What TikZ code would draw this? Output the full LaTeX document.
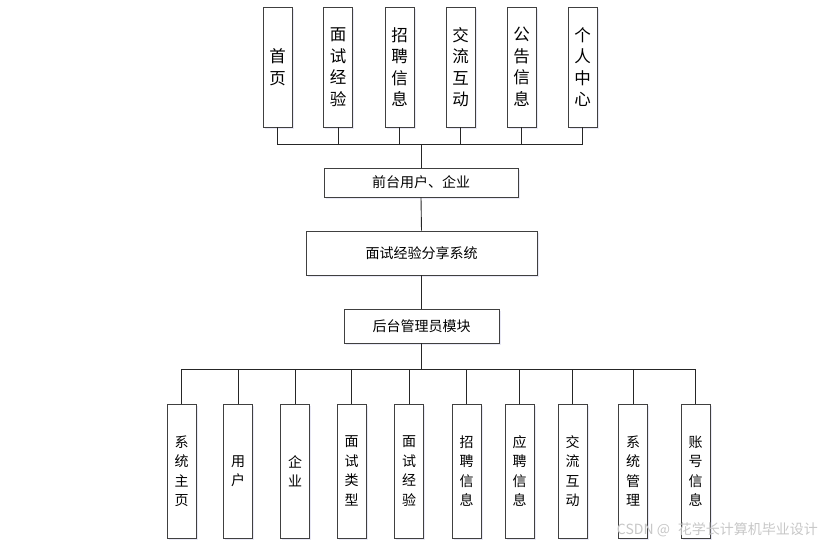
\documentclass[tikz,border=0pt]{standalone}
\usepackage{fontspec}
\setmainfont{Noto Sans CJK SC}
\newfontfamily\cjk{Noto Sans CJK SC}
\usetikzlibrary{shadows}
\begin{document}
\begin{tikzpicture}[x=1pt,y=-1pt,
  box/.style={draw=black!75,line width=0.9pt,fill=white,inner sep=0pt,
    drop shadow={opacity=0.12,shadow xshift=1.5pt,shadow yshift=-1.5pt,fill=blue!40!gray}},
  topbox/.style={box,minimum width=29pt,minimum height=120pt,font=\fontsize{16.5}{21.5}\selectfont,align=center},
  botbox/.style={box,minimum width=29pt,minimum height=134pt,font=\fontsize{14}{19.5}\selectfont,align=center},
  midbox/.style={box,font=\fontsize{14}{16}\selectfont},
  conn/.style={draw=black!85,line width=0.9pt}]
\useasboundingbox (0,0) rectangle (831,546);
% top row
\node[topbox] (t1) at (277.5,67) {首\\页};
\node[topbox] (t2) at (338,67) {面\\试\\经\\验};
\node[topbox] (t3) at (399.5,67) {招\\聘\\信\\息};
\node[topbox] (t4) at (460.5,67) {交\\流\\互\\动};
\node[topbox] (t5) at (521.5,67) {公\\告\\信\\息};
\node[topbox] (t6) at (582.5,67) {个\\人\\中\\心};
% middle
\node[midbox,minimum width=194pt,minimum height=29pt] (front) at (421,182.5) {前台用户、企业};
\node[midbox,minimum width=231pt,minimum height=44pt] (sys) at (421.5,253) {面试经验分享系统};
\node[midbox,minimum width=155pt,minimum height=34pt] (back) at (421.5,326) {后台管理员模块};
% bottom row
\node[botbox] (b1) at (181.5,471) {系\\统\\主\\页};
\node[botbox] (b2) at (238,471) {用\\户};
\node[botbox] (b3) at (295,471) {企\\业};
\node[botbox] (b4) at (351.5,471) {面\\试\\类\\型};
\node[botbox] (b5) at (409,471) {面\\试\\经\\验};
\node[botbox] (b6) at (466.5,471) {招\\聘\\信\\息};
\node[botbox] (b7) at (519.5,471) {应\\聘\\信\\息};
\node[botbox] (b8) at (572.5,471) {交\\流\\互\\动};
\node[botbox] (b9) at (633,471) {系\\统\\管\\理};
\node[botbox] (b10) at (695.5,471) {账\\号\\信\\息};
% connectors top
\coordinate (tbus) at (421,144);
\foreach \n in {t1,t2,t3,t4,t5,t6}{
  \draw[conn] (\n.south) |- (tbus);
}
\draw[conn] (t1.south |- tbus) -- (t6.south |- tbus);
\draw[conn] (tbus) -- (front.north);
\draw[conn] (front.south) -- (sys.north);
\draw[conn] (sys.south) -- (back.north);
% connectors bottom
\coordinate (bbus) at (421.5,369);
\draw[conn] (back.south) -- (bbus);
\draw[conn] (b1.north |- bbus) -- (b10.north |- bbus);
\foreach \n in {b1,b2,b3,b4,b5,b6,b7,b8,b9,b10}{
  \draw[conn] (\n.north |- bbus) -- (\n.north);
}
% watermark
\node[anchor=east,text=black!22,font=\fontsize{14}{16}\selectfont,inner sep=0pt] (wm) at (818,530) {CSDN @\,\, 花学长计算机毕业设计};
\end{tikzpicture}
\end{document}
